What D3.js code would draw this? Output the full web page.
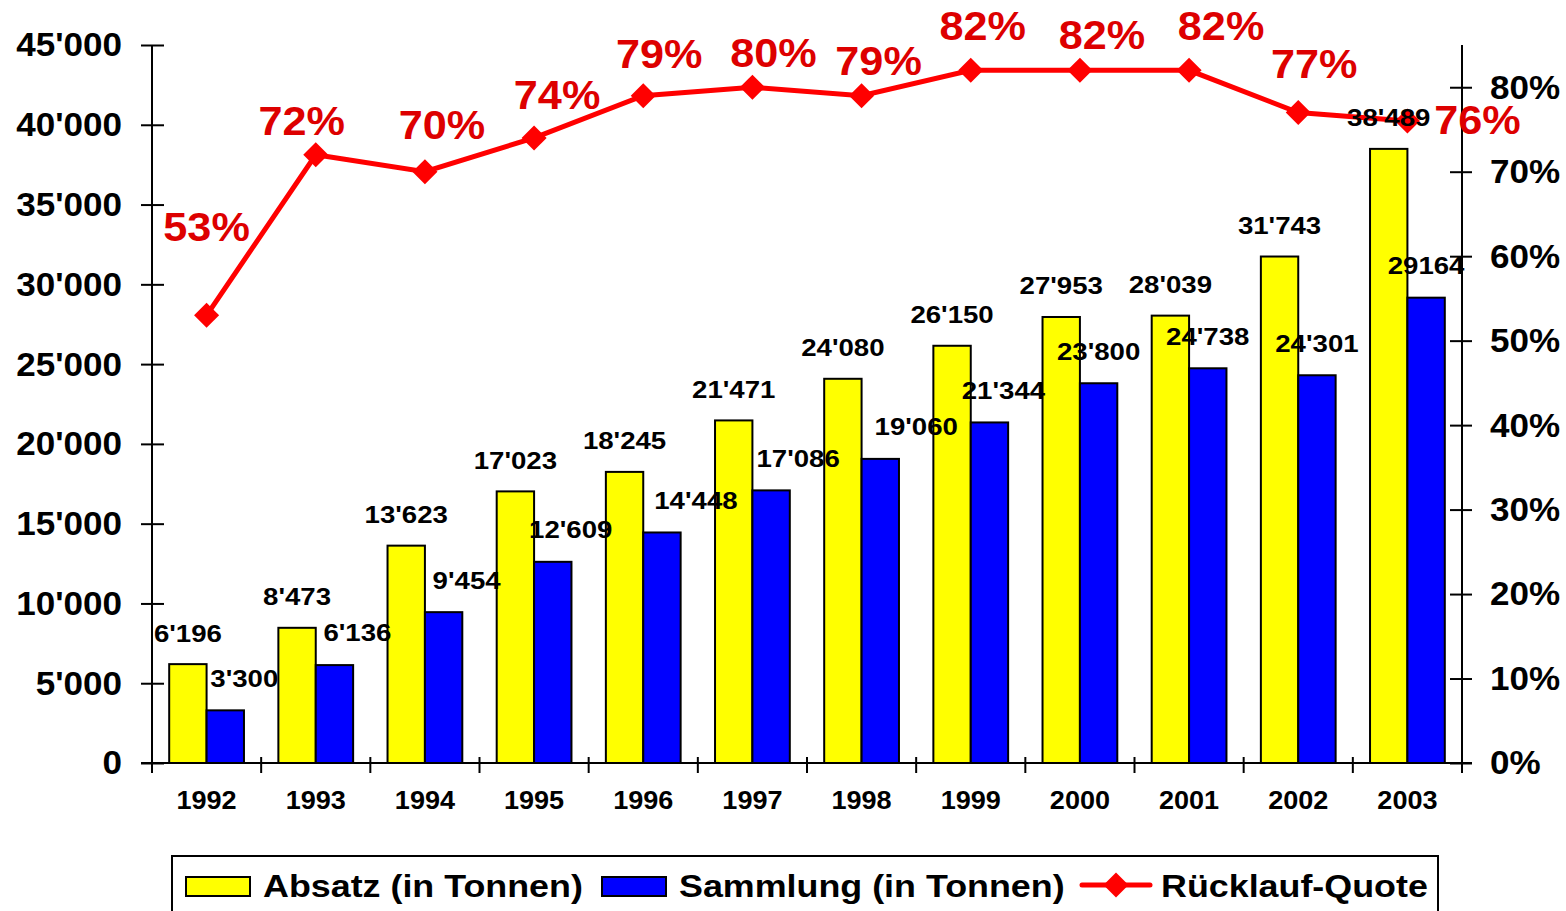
<!doctype html>
<html lang="de">
<head>
    <meta charset="UTF-8">
    <title>Absatz und Sammlung</title>
    <style>
        body { margin: 0; background: #fff; }
        svg text { font-family: "Liberation Sans", Arial, sans-serif; font-weight: bold; }
    </style>
</head>
<body>
<div class="chart"></div>
<script src="https://d3js.org/d3.v7.min.js"></script>
<script>
  (function () {
    const years = ['1992', '1993', '1994', '1995', '1996', '1997', '1998', '1999', '2000', '2001', '2002', '2003']
    const absatz = [6196, 8473, 13623, 17023, 18245, 21471, 24080, 26150, 27953, 28039, 31743, 38489]
    const sammlung = [3300, 6136, 9454, 12609, 14448, 17086, 19060, 21344, 23800, 24738, 24301, 29164]
    const sammlungLabels = ["3'300", "6'136", "9'454", "12'609", "14'448", "17'086", "19'060", "21'344", "23'800", "24'738", "24'301", "29164"]
    const quote = [53, 72, 70, 74, 79, 80, 79, 82, 82, 82, 77, 76]
    const leftTicks = [0, 5000, 10000, 15000, 20000, 25000, 30000, 35000, 40000, 45000]
    const rightTicks = [0, 10, 20, 30, 40, 50, 60, 70, 80]

    // hand placed label offsets, as in the original sheet
    const quoteDx = [0, -14, 17, 23, 16, 21, 17, 12, 22, 32, 16, 70]
    const quoteDy = [-88, -34, -47, -43, -42, -34, -35, -44, -35, -44, -49, -1]
    const sammlungDx = [19, 23, 23, 18, 34, 27, 36, 14, 0, 0, 0, 0]

    const width = 1566
    const height = 911
    const m = {left: 152, right: 1462, top: 45, bottom: 763}

    const fmt = d3.formatLocale({decimal: '.', thousands: "'", grouping: [3], currency: ['', '']}).format(',')

    // the source renders its text a bit wider than Arial, stretch to match
    const stretch = (sel, k) => sel.each(function () {
      const w = this.getComputedTextLength()
      d3.select(this).attr('textLength', w * k).attr('lengthAdjust', 'spacingAndGlyphs')
    })

    const svg = d3.select('.chart')
      .append('svg')
      .attr('width', width)
      .attr('height', height)

    const x = d3.scaleBand()
      .domain(years)
      .range([m.left, m.right])

    const x1 = d3.scaleBand()
      .domain(['absatz', 'sammlung'])
      .range([0, x.bandwidth()])
      .paddingOuter(0.46)

    const y = d3.scaleLinear()
      .domain([0, 45000])
      .range([m.bottom, m.top])

    const yPct = d3.scaleLinear()
      .domain([0, 85])
      .range([m.bottom, m.top])

    // axes
    const leftAxis = d3.axisLeft(y)
      .tickValues(leftTicks)
      .tickFormat(d => fmt(d))
      .tickSizeInner(-12)
      .tickSizeOuter(0)
      .tickPadding(30)

    const gl = svg.append('g')
      .attr('transform', `translate(${m.left},0)`)
      .call(leftAxis)
    gl.selectAll('.tick line').attr('x1', -11)

    const rightAxis = d3.axisRight(yPct)
      .tickValues(rightTicks)
      .tickFormat(d => d + '%')
      .tickSizeInner(10)
      .tickSizeOuter(0)
      .tickPadding(18)

    const gr = svg.append('g')
      .attr('transform', `translate(${m.right},0)`)
      .call(rightAxis)
    gr.selectAll('.tick line').attr('x1', -12)

    for (const g of [gl, gr]) {
      g.select('.domain').attr('d', `M0,${m.top}V${m.bottom + 10}`)
      g.selectAll('.domain, .tick line').attr('stroke', '#000').attr('stroke-width', 2)
      g.selectAll('text').attr('font-size', 34).attr('fill', '#000')
    }
    stretch(gl.selectAll('text'), 1.03)
    stretch(gr.selectAll('text'), 1.03)

    const bottomAxis = d3.axisBottom(x)
      .tickSize(0)
      .tickPadding(28)

    const gb = svg.append('g')
      .attr('transform', `translate(0,${m.bottom})`)
      .call(bottomAxis)
    gb.select('.domain').attr('d', `M${m.left - 11},0H${m.right + 10}`)
      .attr('stroke', '#000').attr('stroke-width', 2)
    gb.selectAll('text').attr('font-size', 26).attr('fill', '#000')
    stretch(gb.selectAll('text'), 1.04)

    gb.selectAll('.sep')
      .data(years.slice(1).concat(['end']))
      .enter()
      .append('line')
      .attr('x1', d => d === 'end' ? m.right : x(d))
      .attr('x2', d => d === 'end' ? m.right : x(d))
      .attr('y1', -6)
      .attr('y2', 10)
      .attr('stroke', '#000')
      .attr('stroke-width', 2)
    gb.append('line')
      .attr('x1', m.left).attr('x2', m.left)
      .attr('y1', 0).attr('y2', 10)
      .attr('stroke', '#000').attr('stroke-width', 2)

    // bars
    const groups = svg.append('g')
      .selectAll('g')
      .data(years)
      .enter()
      .append('g')
      .attr('transform', d => `translate(${x(d)},0)`)

    groups.append('rect')
      .attr('x', x1('absatz'))
      .attr('y', (d, i) => y(absatz[i]))
      .attr('width', x1.bandwidth())
      .attr('height', (d, i) => y(0) - y(absatz[i]))
      .attr('fill', '#ffff00')
      .attr('stroke', '#000')
      .attr('stroke-width', 2)

    groups.append('rect')
      .attr('x', x1('sammlung'))
      .attr('y', (d, i) => y(sammlung[i]))
      .attr('width', x1.bandwidth())
      .attr('height', (d, i) => y(0) - y(sammlung[i]))
      .attr('fill', '#0000ff')
      .attr('stroke', '#000')
      .attr('stroke-width', 2)

    // line
    const cx = (d, i) => x(years[i]) + x.bandwidth() / 2
    const line = d3.line()
      .x((d, i) => cx(d, i))
      .y(d => yPct(d))

    svg.append('path')
      .datum(quote)
      .attr('d', line)
      .attr('fill', 'none')
      .attr('stroke', '#ff0000')
      .attr('stroke-width', 5)

    svg.append('g')
      .selectAll('path')
      .data(quote)
      .enter()
      .append('path')
      .attr('d', d3.symbol(d3.symbolDiamond2, 400)())
      .attr('transform', (d, i) => `translate(${cx(d, i)},${yPct(d)})`)
      .attr('fill', '#ff0000')

    // bar labels, on top of all bars
    const labels = svg.append('g')
      .selectAll('g')
      .data(years)
      .enter()
      .append('g')
      .attr('transform', d => `translate(${x(d)},0)`)

    labels.append('text')
      .attr('x', x1('absatz') + x1.bandwidth() / 2)
      .attr('y', (d, i) => y(absatz[i]) - 31)
      .attr('dy', '0.35em')
      .attr('text-anchor', 'middle')
      .attr('font-size', 24)
      .text((d, i) => fmt(absatz[i]))

    labels.append('text')
      .attr('x', (d, i) => x1('sammlung') + x1.bandwidth() / 2 + sammlungDx[i])
      .attr('y', (d, i) => y(sammlung[i]) - 32)
      .attr('dy', '0.35em')
      .attr('text-anchor', 'middle')
      .attr('font-size', 24)
      .text((d, i) => sammlungLabels[i])

    stretch(labels.selectAll('text'), 1.15)

    // quote labels
    const qLabels = svg.append('g')
      .selectAll('text')
      .data(quote)
      .enter()
      .append('text')
      .attr('x', (d, i) => cx(d, i) + quoteDx[i])
      .attr('y', (d, i) => yPct(d) + quoteDy[i])
      .attr('dy', '0.35em')
      .attr('text-anchor', 'middle')
      .attr('font-size', 40)
      .attr('fill', '#dd0000')
      .text(d => d + '%')
    stretch(qLabels, 1.08)

    // legend
    const legend = svg.append('g')
    legend.append('rect')
      .attr('x', 172).attr('y', 856)
      .attr('width', 1266).attr('height', 80)
      .attr('fill', '#fff')
      .attr('stroke', '#000')
      .attr('stroke-width', 2)

    legend.append('rect')
      .attr('x', 186).attr('y', 877).attr('width', 64).attr('height', 19)
      .attr('fill', '#ffff00').attr('stroke', '#000').attr('stroke-width', 2)
    legend.append('text')
      .attr('x', 263).attr('y', 897).attr('font-size', 32)
      .text('Absatz (in Tonnen)')

    legend.append('rect')
      .attr('x', 602).attr('y', 877).attr('width', 64).attr('height', 19)
      .attr('fill', '#0000ff').attr('stroke', '#000').attr('stroke-width', 2)
    legend.append('text')
      .attr('x', 679).attr('y', 897).attr('font-size', 32)
      .text('Sammlung (in Tonnen)')

    legend.append('line')
      .attr('x1', 1082).attr('x2', 1150).attr('y1', 885).attr('y2', 885)
      .attr('stroke', '#ff0000').attr('stroke-width', 5).attr('stroke-linecap', 'round')
    legend.append('path')
      .attr('d', d3.symbol(d3.symbolDiamond2, 400)())
      .attr('transform', 'translate(1116,885)')
      .attr('fill', '#ff0000')
    legend.append('text')
      .attr('x', 1161).attr('y', 897).attr('font-size', 32)
      .text('Rücklauf-Quote')

    stretch(legend.selectAll('text'), 1.12)
  })()
</script>
</body>
</html>
